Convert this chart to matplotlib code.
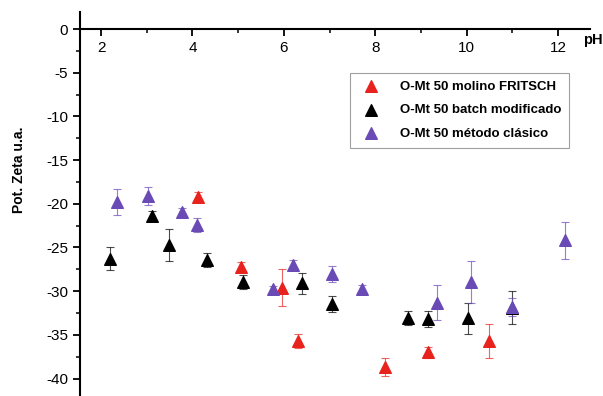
import numpy as np
import matplotlib
matplotlib.use("Agg")
import matplotlib.pyplot as plt
from matplotlib.ticker import MultipleLocator

plt.rcParams['font.family'] = ['Liberation Sans', 'DejaVu Sans']
plt.rcParams['axes.unicode_minus'] = False

# O-Mt 50 molino FRITSCH
ph_red = [4.12, 5.06, 5.95, 6.32, 8.21, 9.16, 10.48]
z_red = [-19.2, -27.2, -29.6, -35.7, -38.7, -37.0, -35.7]
e_red = [0.5, 0.5, 2.1, 0.8, 1.0, 0.6, 1.9]

# O-Mt 50 batch modificado
ph_blk = [2.2, 3.12, 3.49, 4.32, 5.1, 6.4, 7.05, 8.72, 9.16, 10.03, 10.99]
z_blk = [-26.3, -21.4, -24.7, -26.4, -28.9, -29.1, -31.5, -33.1, -33.2, -33.1, -31.9]
e_blk = [1.3, 0.6, 1.8, 0.8, 0.8, 1.2, 0.9, 0.8, 0.9, 1.8, 1.9]

# O-Mt 50 metodo clasico
ph_pur = [2.36, 3.02, 3.77, 4.1, 5.76, 6.2, 7.05, 7.71, 9.35, 10.1, 11.0, 12.15]
z_pur = [-19.8, -19.1, -20.9, -22.4, -29.8, -27.0, -28.0, -29.7, -31.3, -29.0, -31.8, -24.2]
e_pur = [1.5, 1.0, 0.4, 0.8, 0.4, 0.6, 0.9, 0.4, 2.0, 2.4, 1.0, 2.1]

fig = plt.figure(figsize=(6.03, 3.96), dpi=100)
ax = fig.add_axes([80 / 603, 0, 510 / 603, 384 / 396])

series = [
    (ph_red, z_red, e_red, '#e8231e', 'O-Mt 50 molino FRITSCH'),
    (ph_blk, z_blk, e_blk, 'black', 'O-Mt 50 batch modificado'),
    (ph_pur, z_pur, e_pur, '#6a4bb5', u'O-Mt 50 método clásico'),
]
handles = []
for x, y, e, c, lab in series:
    ax.errorbar(x, y, yerr=e, fmt='none', ecolor=c, elinewidth=0.8,
                capsize=3, capthick=0.8, alpha=0.7)
    h = ax.scatter(x, y, marker='^', s=70, color=c, zorder=3, label=lab)
    handles.append(h)

ax.set_xlim(1.54, 12.7)
ax.set_ylim(-42.0, 1.95)

for s in ['top', 'right']:
    ax.spines[s].set_visible(False)
ax.spines['bottom'].set_position(('data', 0))
ax.spines['bottom'].set_linewidth(1.5)
ax.spines['left'].set_linewidth(1.5)

ax.xaxis.set_major_locator(MultipleLocator(2))
ax.xaxis.set_minor_locator(MultipleLocator(1))
ax.yaxis.set_major_locator(MultipleLocator(5))
ax.yaxis.set_minor_locator(MultipleLocator(2.5))
ax.tick_params(which='major', length=5, width=1.3, labelsize=11)
ax.tick_params(which='minor', length=3, width=1.1)
ax.set_xticks([2, 4, 6, 8, 10, 12])
ax.set_yticks([0, -5, -10, -15, -20, -25, -30, -35, -40])

ax.set_ylabel('Pot. Zeta u.a.', fontsize=10, fontweight='bold')
ax.yaxis.set_label_coords(-0.105, 0.59)
fig.text(583 / 603, 1 - 40 / 396, 'pH', fontsize=10.5, fontweight='bold',
         va='center', ha='left')

leg = ax.legend(handles=handles, loc='upper left',
                bbox_to_anchor=(263 / 510, 1 - 54 / 384),
                prop={'weight': 'bold', 'size': 9.5}, frameon=True,
                fancybox=False, edgecolor='#888888', handletextpad=1.2,
                borderpad=0.6, labelspacing=0.85, scatterpoints=1)
leg.get_frame().set_linewidth(0.8)

fig.savefig('out.png', dpi=100)
